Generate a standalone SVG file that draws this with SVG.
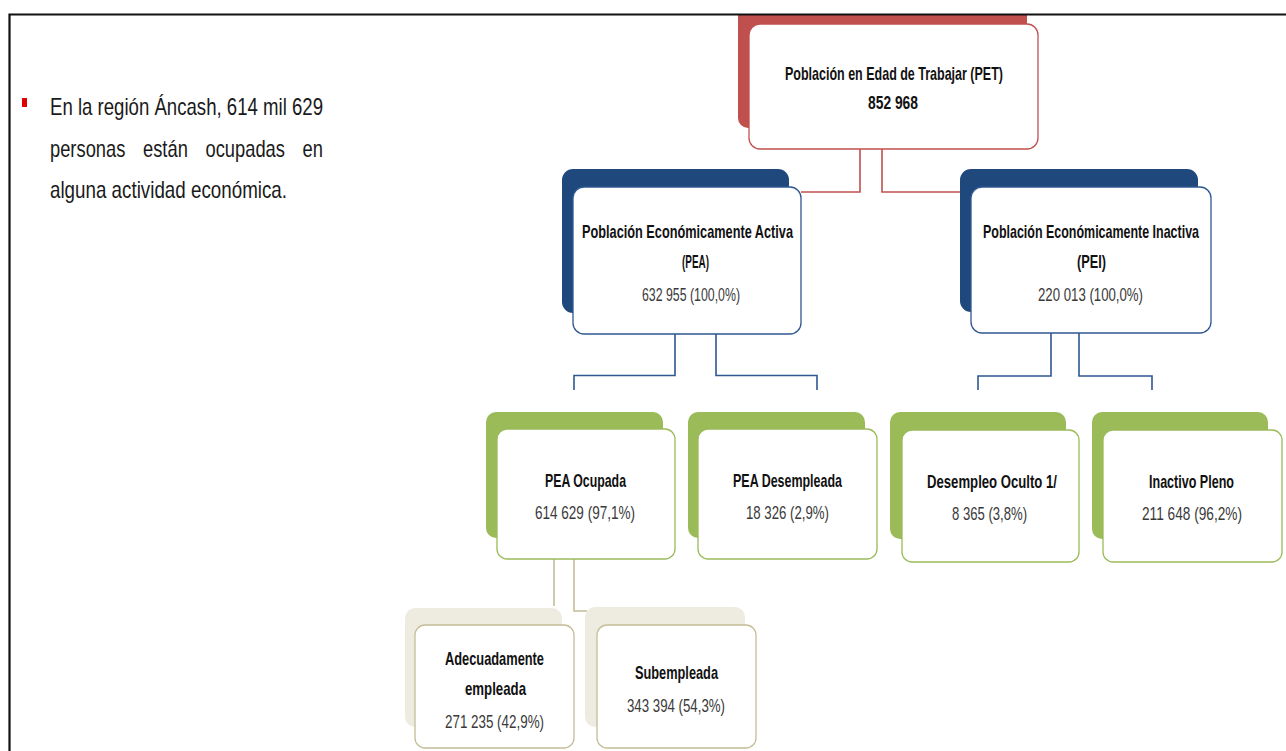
<svg xmlns="http://www.w3.org/2000/svg" width="1286" height="751" viewBox="0 0 1286 751">
  <style>
    .lbl { font-family: "Liberation Sans", Arial, sans-serif; font-weight: bold; font-size: 19px; fill: #111111; }
    .num { font-family: "Liberation Sans", Arial, sans-serif; font-size: 19px; fill: #3a3a3a; }
    .body { font-family: "Liberation Sans", Arial, sans-serif; font-size: 24px; fill: #1a1a1a; }
    .card { fill: #ffffff; stroke-width: 1.3; }
    .red-sh { fill: #C0504D; }
    .red-card { stroke: #C0504D; }
    .navy-sh { fill: #1F497D; }
    .navy-card { stroke: #2F5791; }
    .green-sh { fill: #9BBB59; }
    .green-card { stroke: #9BBB59; }
    .tan-sh { fill: #EEECE1; }
    .tan-card { stroke: #C4BD97; }
    .wire { fill: none; stroke-width: 1.6; }
    .wire-red { stroke: #C0504D; }
    .wire-navy { stroke: #2F5791; }
    .wire-tan { stroke: #C4BD97; }
  </style>

  <rect x="0" y="0" width="1286" height="751" fill="#ffffff"/>

  <!-- intro bullet -->
  <g id="intro">
    <rect x="22" y="98" width="5" height="9" fill="#E00000"/>
    <text class="body" x="50" y="115" textLength="273" lengthAdjust="spacingAndGlyphs">En la región Áncash, 614 mil 629</text>
    <text class="body" x="50" y="157" word-spacing="16.5" textLength="273" lengthAdjust="spacingAndGlyphs">personas están ocupadas en</text>
    <text class="body" x="50" y="198" textLength="237" lengthAdjust="spacingAndGlyphs">alguna actividad económica.</text>
  </g>

  <!-- connectors -->
  <g id="connectors">
    <path class="wire wire-red" d="M860 149 V192 H801"/>
    <path class="wire wire-red" d="M882 149 V192 H960"/>
    <path class="wire wire-navy" d="M675 334 V375.5 H574 V390"/>
    <path class="wire wire-navy" d="M716 334 V375.5 H817 V390"/>
    <path class="wire wire-navy" d="M1051 333 V376 H978 V390"/>
    <path class="wire wire-navy" d="M1079 333 V376 H1152 V390"/>
    <path class="wire wire-tan" d="M554 559 V606"/>
    <path class="wire wire-tan" d="M574 559 V611 H587"/>
  </g>

  <!-- level 0 -->
  <g id="node-pet">
    <path class="red-sh" d="M738 14 H1027 V118 A10 10 0 0 1 1017 128 H748 A10 10 0 0 1 738 118 Z"/>
    <rect class="card red-card" x="749" y="24" width="289" height="125" rx="11"/>
    <text class="lbl" x="785" y="80" textLength="218" lengthAdjust="spacingAndGlyphs">Población en Edad de Trabajar (PET)</text>
    <text class="lbl" x="868" y="109" textLength="50" lengthAdjust="spacingAndGlyphs">852 968</text>
  </g>

  <!-- level 1 -->
  <g id="node-pea">
    <rect class="navy-sh" x="562" y="169" width="227" height="144" rx="11"/>
    <rect class="card navy-card" x="573" y="187" width="228" height="147" rx="11"/>
    <text class="lbl" transform="translate(582 238) scale(0.7 1)" x="0" y="0" textLength="301.4" lengthAdjust="spacingAndGlyphs">Población Económicamente Activa</text>
    <text class="lbl" x="682" y="268" textLength="27" lengthAdjust="spacingAndGlyphs">(PEA)</text>
    <text class="num" x="642" y="301" textLength="98" lengthAdjust="spacingAndGlyphs">632 955 (100,0%)</text>
  </g>

  <g id="node-pei">
    <rect class="navy-sh" x="960" y="169" width="238" height="143" rx="11"/>
    <rect class="card navy-card" x="971" y="187" width="240" height="146" rx="11"/>
    <text class="lbl" transform="translate(983 238) scale(0.7 1)" x="0" y="0" textLength="308.6" lengthAdjust="spacingAndGlyphs">Población Económicamente Inactiva</text>
    <text class="lbl" x="1077" y="268" textLength="29" lengthAdjust="spacingAndGlyphs">(PEI)</text>
    <text class="num" x="1038" y="301" textLength="105" lengthAdjust="spacingAndGlyphs">220 013 (100,0%)</text>
  </g>

  <!-- level 2 -->
  <g id="node-pea-ocupada">
    <rect class="green-sh" x="486" y="412" width="177" height="126" rx="10"/>
    <rect class="card green-card" x="497" y="429" width="178" height="130" rx="10"/>
    <text class="lbl" x="545" y="487" textLength="81" lengthAdjust="spacingAndGlyphs">PEA Ocupada</text>
    <text class="num" x="535" y="519" textLength="100" lengthAdjust="spacingAndGlyphs">614 629 (97,1%)</text>
  </g>

  <g id="node-pea-desempleada">
    <rect class="green-sh" x="688" y="412" width="177" height="126" rx="10"/>
    <rect class="card green-card" x="698" y="429" width="179" height="130" rx="10"/>
    <text class="lbl" x="733" y="487" textLength="109" lengthAdjust="spacingAndGlyphs">PEA Desempleada</text>
    <text class="num" x="746" y="519" textLength="83" lengthAdjust="spacingAndGlyphs">18 326 (2,9%)</text>
  </g>

  <g id="node-desempleo-oculto">
    <rect class="green-sh" x="890" y="412" width="176" height="127" rx="10"/>
    <rect class="card green-card" x="902" y="430" width="177" height="132" rx="10"/>
    <text class="lbl" x="927" y="488" textLength="130" lengthAdjust="spacingAndGlyphs">Desempleo Oculto 1/</text>
    <text class="num" x="952" y="520" textLength="75" lengthAdjust="spacingAndGlyphs">8 365 (3,8%)</text>
  </g>

  <g id="node-inactivo-pleno">
    <rect class="green-sh" x="1092" y="412" width="176" height="127" rx="10"/>
    <rect class="card green-card" x="1103" y="430" width="179" height="132" rx="10"/>
    <text class="lbl" x="1149" y="488" textLength="85" lengthAdjust="spacingAndGlyphs">Inactivo Pleno</text>
    <text class="num" x="1142" y="520" textLength="100" lengthAdjust="spacingAndGlyphs">211 648 (96,2%)</text>
  </g>

  <!-- level 3 -->
  <g id="node-adecuadamente">
    <rect class="tan-sh" x="405" y="608" width="157" height="119" rx="10"/>
    <rect class="card tan-card" x="415" y="625" width="159" height="123" rx="10"/>
    <text class="lbl" x="445" y="665" textLength="99" lengthAdjust="spacingAndGlyphs">Adecuadamente</text>
    <text class="lbl" x="465" y="695" textLength="61" lengthAdjust="spacingAndGlyphs">empleada</text>
    <text class="num" x="445" y="728" textLength="99" lengthAdjust="spacingAndGlyphs">271 235 (42,9%)</text>
  </g>

  <g id="node-subempleada">
    <rect class="tan-sh" x="585" y="607" width="160" height="120" rx="10"/>
    <rect class="card tan-card" x="597" y="625" width="159" height="123" rx="10"/>
    <text class="lbl" x="635" y="679" textLength="83" lengthAdjust="spacingAndGlyphs">Subempleada</text>
    <text class="num" x="627" y="712" textLength="98" lengthAdjust="spacingAndGlyphs">343 394 (54,3%)</text>
  </g>

  <!-- slide frame -->
  <g id="frame">
    <path d="M9.5 751 V14.5 H1286" fill="none" stroke="#111111" stroke-width="2.2"/>
  </g>
</svg>
